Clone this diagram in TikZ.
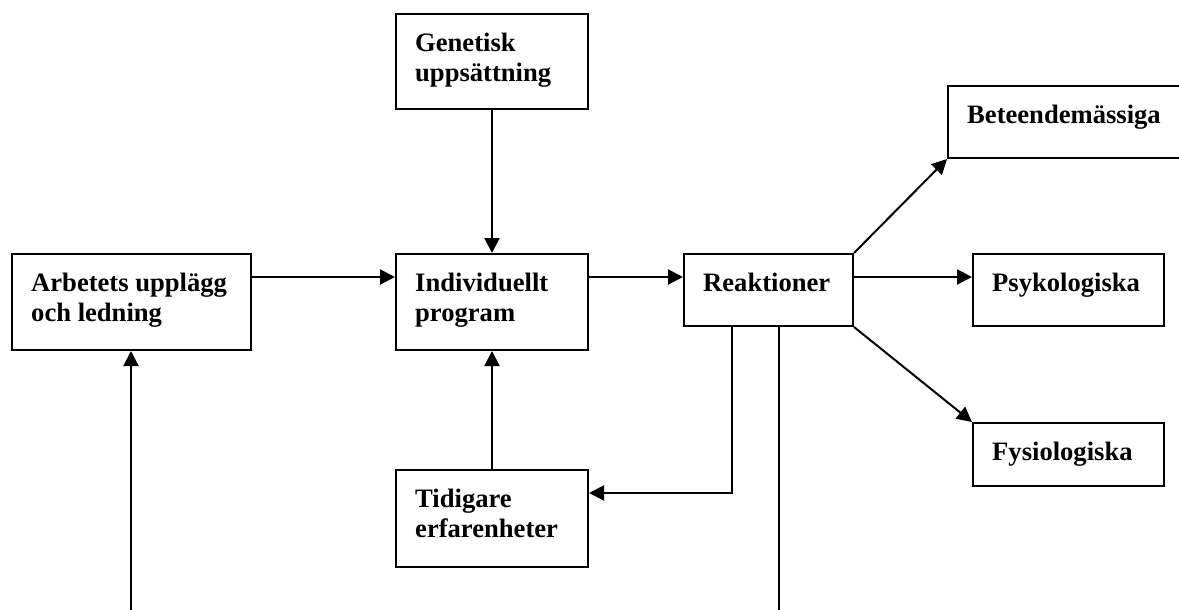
\documentclass[tikz,border=0pt]{standalone}
\usepackage{fontspec}
\setmainfont{Liberation Serif}
\usetikzlibrary{arrows.meta}
\tikzset{
  box/.style={draw, line width=2pt, inner sep=0pt, anchor=north west, minimum width=#1},
  lbl/.style={anchor=north west, xshift=20pt, yshift=-20pt, inner sep=0pt, align=left,
    font=\fontsize{26.6}{30}\selectfont\bfseries},
  conn/.style={line width=2pt},
  arr/.style={conn, -{Triangle[length=15pt,width=15pt]}}
}
\begin{document}
\begin{tikzpicture}[x=1pt,y=-1pt]
\useasboundingbox (0,0) rectangle (1179,610);
\clip (0,0) rectangle (1179,610);
\node[box=192pt, minimum height=95pt, label={[lbl]north west:Genetisk\\uppsättning}] (gen) at (395,13) {};
\node[box=192pt, minimum height=96pt, label={[lbl]north west:Individuellt\\program}] (ind) at (395,253) {};
\node[box=239pt, minimum height=96pt, label={[lbl]north west:Arbetets upplägg\\och ledning}] (arb) at (11,253) {};
\node[box=169pt, minimum height=72pt, label={[lbl]north west:Reaktioner}] (rea) at (683,253) {};
\node[box=192pt, minimum height=97pt, label={[lbl]north west:Tidigare\\erfarenheter}] (tid) at (395,469) {};
\node[box=260pt, minimum height=72pt, label={[lbl]north west:Beteendemässiga}] (bet) at (947,85) {};
\node[box=191pt, minimum height=72pt, label={[lbl]north west:Psykologiska}] (psy) at (972,253) {};
\node[box=191pt, minimum height=63pt, label={[lbl]north west:Fysiologiska}] (fys) at (972,422) {};
\coordinate (s1) at (131,615);
\coordinate (e1) at (779,615);
\draw[arr] (gen.south) -- (ind.north);
\draw[arr] ([yshift=-24pt]arb.north east) -- ([yshift=-24pt]ind.north west);
\draw[arr] ([yshift=-24pt]ind.north east) -- ([yshift=-24pt]rea.north west);
\draw[arr] ([yshift=-24pt]rea.north east) -- ([yshift=-24pt]psy.north west);
\draw[arr] (rea.north east) -- (bet.south west);
\draw[arr] (rea.south east) -- (fys.north west);
\draw[arr] (tid.north) -- (ind.south);
\draw[arr] ([xshift=49pt]rea.south west) |- ([yshift=-24pt]tid.north east);
\draw[conn] ([xshift=96pt]rea.south west) -- (e1);
\draw[arr] (s1) -- (s1 |- arb.south);
\end{tikzpicture}
\end{document}
